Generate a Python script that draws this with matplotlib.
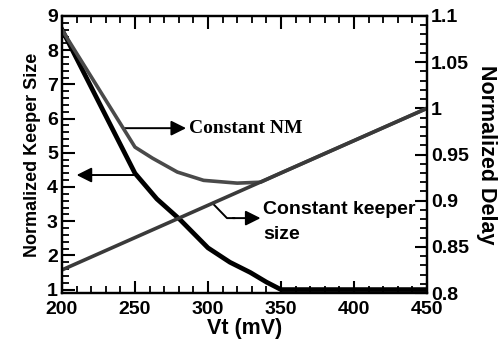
import matplotlib.pyplot as plt
from matplotlib.ticker import MultipleLocator

# threshold voltage (mV) / normalized keeper size, constant NM (left axis)
vt_size = [200, 250, 265, 281, 300, 315, 329, 340, 350, 400, 450]
keeper_size = [8.6, 4.4, 3.65, 3.04, 2.22, 1.8, 1.5, 1.22, 1.0, 1.0, 1.0]

# normalized delay, constant NM (right axis)
vt_nm = [200, 250, 262, 279, 297, 320, 336, 350, 400, 450]
delay_nm = [1.085, 0.958, 0.946, 0.931, 0.922, 0.919, 0.92, 0.93, 0.965, 1.0]

# normalized delay, constant keeper size (right axis)
vt_keeper = [200, 250, 300, 350, 400, 450]
delay_keeper = [0.825, 0.86, 0.895, 0.93, 0.965, 1.0]

right_ticks = [0.8, 0.85, 0.9, 0.95, 1.0, 1.05, 1.1]
right_labels = ['0.8', '0.85', '0.9', '0.95', '1', '1.05', '1.1']

SANS = 'Liberation Sans'
SERIF = 'Liberation Serif'

plt.rcParams['font.family'] = SANS
plt.rcParams['font.weight'] = 'bold'
plt.rcParams['axes.labelweight'] = 'bold'
plt.rcParams['xtick.direction'] = 'in'
plt.rcParams['ytick.direction'] = 'in'
plt.rcParams['xtick.top'] = True
plt.rcParams['xtick.major.size'] = 9
plt.rcParams['ytick.major.size'] = 9
plt.rcParams['xtick.minor.size'] = 5
plt.rcParams['ytick.minor.size'] = 5
plt.rcParams['xtick.major.width'] = 1.5
plt.rcParams['ytick.major.width'] = 1.5
plt.rcParams['xtick.minor.width'] = 1.3
plt.rcParams['ytick.minor.width'] = 1.3
plt.rcParams['xtick.major.pad'] = 6
plt.rcParams['ytick.major.pad'] = 3
plt.rcParams['xtick.labelsize'] = 14
plt.rcParams['ytick.labelsize'] = 14
plt.rcParams['axes.linewidth'] = 1.6

fig = plt.figure(figsize=(5.02, 3.47), dpi=100)
ax = fig.add_axes([0.1235, 0.1556, 0.727, 0.7983])
ax2 = ax.twinx()

ax.plot(vt_size, keeper_size, color='black', lw=3.4, zorder=3)
ax2.plot(vt_nm, delay_nm, color='#4a4a4a', lw=2.6, zorder=2)
ax2.plot(vt_keeper, delay_keeper, color='#3a3a3a', lw=2.6, zorder=2)

ax.set_xlim(200, 450)
ax.set_ylim(0.9, 9)
ax2.set_ylim(0.8, 1.1)

ax.xaxis.set_major_locator(MultipleLocator(50))
ax.xaxis.set_minor_locator(MultipleLocator(10))
ax.yaxis.set_major_locator(MultipleLocator(1))
ax.yaxis.set_minor_locator(MultipleLocator(0.2))
ax2.set_yticks(right_ticks)
ax2.set_yticklabels(right_labels)
ax2.yaxis.set_minor_locator(MultipleLocator(0.01))
ax.tick_params(axis='y', which='both', right=False)

ax.set_xlabel('Vt (mV)', fontsize=15.5, labelpad=0)
ax.set_ylabel('Normalized Keeper Size', fontsize=13, labelpad=4)
ax2.set_ylabel('Normalized Delay', fontsize=15.5, rotation=270, labelpad=20)

arrow = dict(arrowstyle='-|>,head_length=0.9,head_width=0.45', lw=1.4,
             color='black', shrinkA=0, shrinkB=0)

# Constant NM -> right axis
ax.annotate('', xy=(285, 5.72), xytext=(243, 5.72), arrowprops=arrow, zorder=5)
ax.text(287, 5.72, 'Constant NM', fontfamily=SERIF, fontweight='bold',
        fontsize=14, va='center', ha='left')

# keeper size curve -> left axis
ax.annotate('', xy=(210, 4.35), xytext=(249, 4.35), arrowprops=arrow, zorder=5)

# Constant keeper size label
ax.plot([303, 313, 318], [3.53, 3.09, 3.09], color='black', lw=1.4, zorder=5)
ax.annotate('', xy=(336, 3.09), xytext=(317, 3.09), arrowprops=arrow, zorder=5)
ax.text(338, 3.6, 'Constant keeper\nsize', fontsize=14, va='top', ha='left',
        linespacing=1.65)

fig.savefig('out.png', dpi=100)
